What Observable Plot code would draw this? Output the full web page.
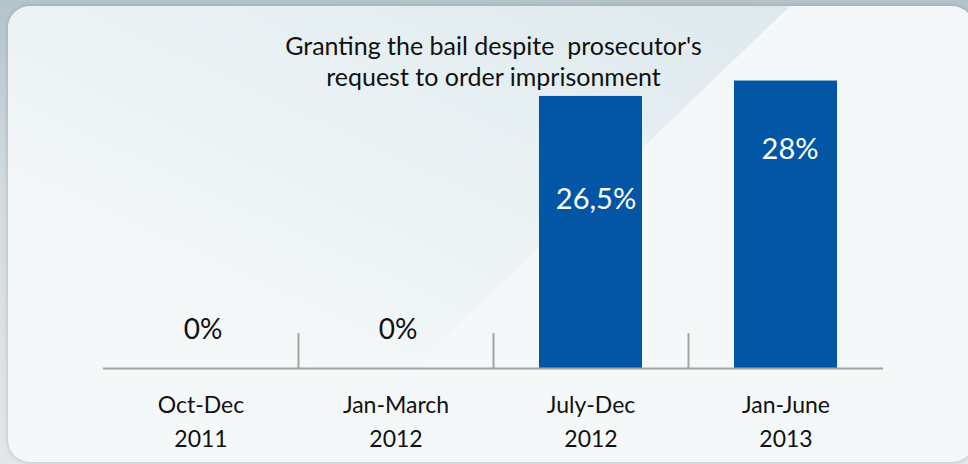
<!DOCTYPE html>
<html>
<head>
<meta charset="utf-8">
<script src="https://cdn.jsdelivr.net/npm/d3@7"></script>
<script src="https://cdn.jsdelivr.net/npm/@observablehq/plot@0.6"></script>
<style>
  html, body { margin: 0; padding: 0; }
  body { width: 968px; height: 464px; position: relative; overflow: hidden;
         background: linear-gradient(to bottom, #b5c3ca 0%, #d3dbdf 40%, #e2e7ea 100%); font-family: Lato, sans-serif; }
  #panel { position: absolute; left: 8px; top: 6px; width: 966px; height: 456px; border-radius: 22px;
           background: #f5f8f9; overflow: hidden; box-shadow: 0 0 4px rgba(80,100,110,0.35); }
  #band { position: absolute; left: 0; top: 0; width: 100%; height: 100%;
          clip-path: polygon(0 0, 782px 0, 300px 464px, 0 464px);
          background: linear-gradient(205deg, #dbe7ec 0%, #e6eff2 35%, rgba(245,248,249,0) 75%); }
  #chart { position: absolute; left: 0; top: 0; }
</style>
</head>
<body>
<div id="panel"><div id="band"></div></div>
<div id="chart"></div>
<script>
const categories = ["Oct-Dec\n2011", "Jan-March\n2012", "July-Dec\n2012", "Jan-June\n2013"];
const values = [0, 0, 26.5, 28];
const valueLabels = ["0%", "0%", "26,5%", "28%"];
const titleLines = ["Granting the bail despite  prosecutor's", "request to order imprisonment"];

const data = categories.map((c, i) => ({cat: c, value: values[i], label: valueLabels[i]}));

const W = 968, H = 464, ML = 103, MR = 85, MT = 60, MB = 96;
const step = (W - ML - MR) / categories.length;
const blue = "#0256a5";

const chart = Plot.plot({
  width: W, height: H,
  marginLeft: ML, marginRight: MR, marginTop: MT, marginBottom: MB,
  style: {background: "transparent", fontFamily: "Lato, sans-serif"},
  x: {domain: categories, paddingInner: 0.47, paddingOuter: 0.235, axis: null},
  y: {domain: [0, 30], axis: null},
  marks: [
    Plot.barY(data, {x: "cat", y: "value", fill: blue}),
    Plot.ruleY([0], {stroke: "#a3a3a3", strokeWidth: 2}),
    Plot.ruleX(categories.slice(1), {x: d => d, y1: 0, y2: 3.4, dx: -step / 2, stroke: "#a3a3a3", strokeWidth: 2}),
    Plot.axisX({domain: categories, tickSize: 0, label: null, tickPadding: 20, fontSize: 23, lineHeight: 1.48, fill: "#111"}),
    Plot.text(data.filter(d => d.value === 0), {x: "cat", y: "value", text: "label", dy: -38, dx: 2, fontSize: 28, fill: "#111"}),
    Plot.text(data.filter(d => d.value === 26.5), {x: "cat", y: "value", text: "label", dy: 103, dx: 5, fontSize: 29, fill: "white"}),
    Plot.text(data.filter(d => d.value === 28), {x: "cat", y: "value", text: "label", dy: 69, dx: 4, fontSize: 29, fill: "white"}),
    Plot.text([titleLines.join("\n")], {frameAnchor: "top", text: d => d, dy: -28, fontSize: 25, lineHeight: 1.24, fill: "#111"})
  ]
});
document.getElementById("chart").appendChild(chart);
</script>
</body>
</html>
